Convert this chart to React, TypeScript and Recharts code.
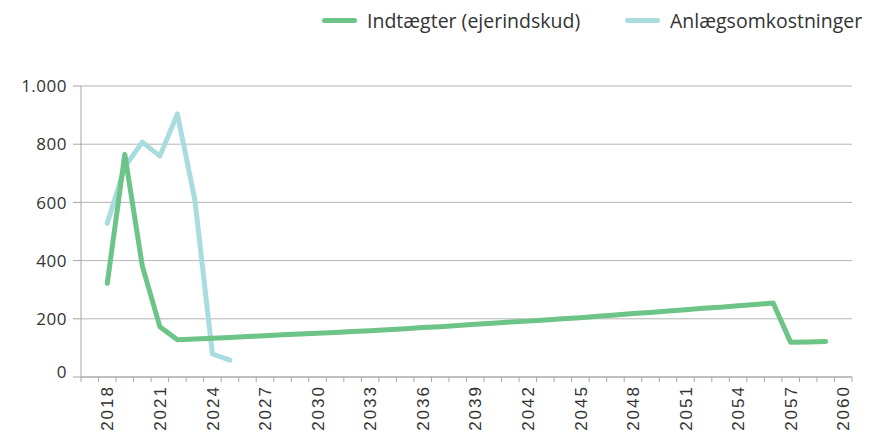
import React from "react";
import { LineChart, Line, XAxis, YAxis, CartesianGrid } from "recharts";

const years = [
  2018, 2019, 2020, 2021, 2022, 2023, 2024, 2025, 2026, 2027, 2028, 2029, 2030, 2031,
  2032, 2033, 2034, 2035, 2036, 2037, 2038, 2039, 2040, 2041, 2042, 2043, 2044, 2045,
  2046, 2047, 2048, 2049, 2050, 2051, 2052, 2053, 2054, 2055, 2056, 2057, 2058, 2059,
];

// Indtægter (ejerindskud)
const income = [
  322, 765, 381, 173, 128, 131, 133, 136, 139, 142, 145, 148, 150, 153,
  156, 159, 162, 166, 170, 173, 177, 181, 185, 189, 192, 196, 200, 204,
  209, 213, 218, 222, 227, 231, 236, 240, 245, 249, 254, 119, 120, 122,
];

// Anlægsomkostninger (only first years)
const constructionCosts = [528, 722, 807, 759, 904, 608, 79, 58];

const yearLabels = [
  2018, 2021, 2024, 2027, 2030, 2033, 2036, 2039, 2042, 2045, 2048, 2051, 2054, 2057, 2060,
];
const yTicks = [0, 200, 400, 600, 800, 1000];

const firstYear = 2017;
const lastYear = 2060;

const GREEN = "#6cc486";
const BLUE = "#a9dcdf";
const AXIS = "#a6a6a6";
const TEXT = "#333333";

const data = years.map((year, i) => ({
  year,
  income: income[i],
  costs: i < constructionCosts.length ? constructionCosts[i] : undefined,
}));

// tick marks sit between the years, like a category axis
const boundaryTicks: number[] = [];
for (let y = firstYear; y <= lastYear + 1; y++) boundaryTicks.push(y - 0.5);

const CHART_W = 857;
const CHART_H = 425;
const MARGIN = { top: 78, right: 13, left: 0, bottom: 0 };
const Y_AXIS_W = 73;
const halfStep = (CHART_W - MARGIN.right - Y_AXIS_W) / (lastYear - firstYear + 1) / 2;

const fmt = (v: number) => String(v).replace(/\B(?=(\d{3})+(?!\d))/g, ".");

const XTick = (props: any) => {
  const { x, y, payload } = props;
  const year = payload.value + 0.5;
  if (!yearLabels.includes(year)) return null;
  const cx = x + halfStep;
  return (
    <text
      x={cx}
      y={y + 1}
      transform={`rotate(-90, ${cx}, ${y + 1})`}
      textAnchor="end"
      dy="0.36em"
      fill={TEXT}
      fontSize={17}
      letterSpacing={2}
      fontFamily="'Liberation Sans', Arial, sans-serif"
    >
      {year}
    </text>
  );
};

const YTick = (props: any) => {
  const { x, y, payload } = props;
  return (
    <text
      x={x}
      y={payload.value === 0 ? y - 5 : y}
      dy="0.36em"
      textAnchor="end"
      fill={TEXT}
      fontSize={17}
      letterSpacing={0.5}
      fontFamily="'Open Sans', sans-serif"
    >
      {fmt(payload.value)}
    </text>
  );
};

const LegendItem = ({ color, label, left }: { color: string; label: string; left: number }) => (
  <div
    style={{
      position: "absolute",
      left,
      top: 0,
      height: 24,
      width: 300,
      display: "flex",
      alignItems: "center",
      whiteSpace: "nowrap",
    }}
  >
    <div style={{ flexShrink: 0, width: 35, height: 5, borderRadius: 3, background: color, marginRight: 10 }} />
    <span style={{ flexShrink: 0, fontFamily: "'Open Sans', sans-serif", fontSize: 19.5, color: TEXT }}>{label}</span>
  </div>
);

export default function App() {
  return (
    <div style={{ position: "relative", width: CHART_W, height: CHART_H }}>
      <LegendItem color={GREEN} label="Indtægter (ejerindskud)" left={314} />
      <LegendItem color={BLUE} label="Anlægsomkostninger" left={617} />
      <LineChart width={CHART_W} height={CHART_H} data={data} margin={MARGIN}>
        <CartesianGrid vertical={false} stroke="#b5b5b5" />
        <XAxis
          dataKey="year"
          type="number"
          domain={[firstYear - 0.5, lastYear + 0.5]}
          ticks={boundaryTicks}
          interval={0}
          height={56}
          stroke={AXIS}
          tickSize={5}
          tickMargin={2}
          tick={<XTick />}
        />
        <YAxis
          domain={[0, 1000]}
          ticks={yTicks}
          width={Y_AXIS_W}
          stroke={AXIS}
          tickSize={8}
          tickMargin={6}
          tick={<YTick />}
        />
        <Line
          dataKey="costs"
          stroke={BLUE}
          strokeWidth={5}
          dot={false}
          isAnimationActive={false}
          strokeLinecap="round"
          strokeLinejoin="round"
        />
        <Line
          dataKey="income"
          stroke={GREEN}
          strokeWidth={5}
          dot={false}
          isAnimationActive={false}
          strokeLinecap="round"
          strokeLinejoin="round"
        />
      </LineChart>
    </div>
  );
}
